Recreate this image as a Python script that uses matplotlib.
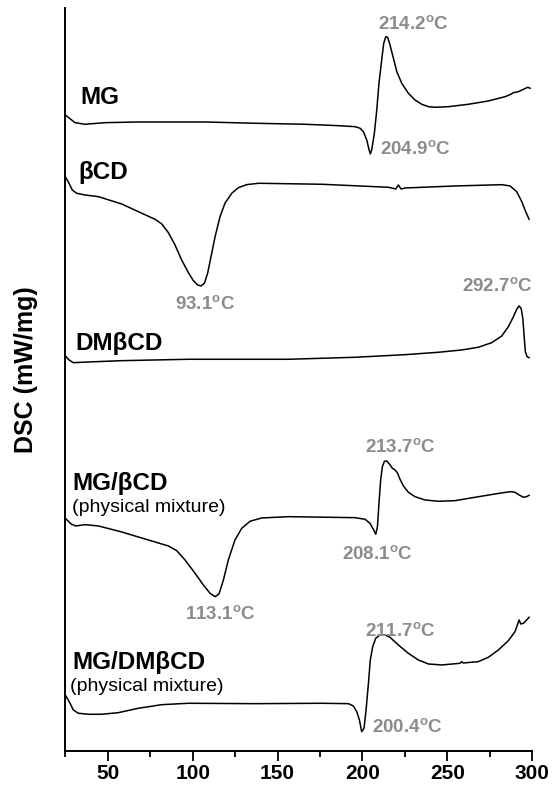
import matplotlib
matplotlib.use("Agg")
import matplotlib.pyplot as plt
from matplotlib.ticker import MultipleLocator

plt.rcParams['font.family'] = ['Liberation Sans', 'DejaVu Sans']
plt.rcParams['mathtext.fontset'] = 'custom'
plt.rcParams['mathtext.rm'] = 'Liberation Sans'
plt.rcParams['mathtext.bf'] = 'Liberation Sans:bold'

# curvas DSC (T en ºC, señal desplazada en mW/mg)
t_mg = [25, 30.7, 36.6, 48.4, 68.0, 107.3, 136.7, 166.2, 185.8, 195.6, 198.6, 200.5,
        202.5, 203.9, 204.6, 205.4, 207.0, 208.4, 209.7, 211.3, 212.5, 213.7, 214.8,
        216.2, 218.2, 220.2, 223.1, 227.0, 230.9, 234.9, 238.8, 242.7, 250.6, 262.4,
        274.1, 284.0, 286.9, 288.9, 291.8, 294.8, 297.3, 298.7]
dsc_mg = [6.36, 6.283, 6.267, 6.283, 6.29, 6.29, 6.277, 6.267, 6.253, 6.243, 6.227, 6.193,
          6.11, 6.01, 5.97, 6.01, 6.177, 6.41, 6.677, 6.91, 7.077, 7.143, 7.137,
          7.06, 6.927, 6.793, 6.677, 6.577, 6.51, 6.467, 6.443, 6.437, 6.443, 6.467,
          6.50, 6.543, 6.563, 6.583, 6.593, 6.617, 6.637, 6.627]

t_bcd = [25, 27.2, 29.1, 31.7, 36.6, 44.5, 58.2, 68.0, 77.8, 81.8, 85.7, 89.6, 93.5,
         97.5, 100.4, 102.9, 104.9, 106.9, 108.8, 110.8, 113.2, 116.1, 119.0, 123.0,
         126.9, 131.8, 138.7, 176.0, 215.2, 219.6, 221.1, 222.7, 225.1, 254.5, 282.0,
         286.9, 290.8, 293.8, 296.1, 298.1]
dsc_bcd = [5.743, 5.677, 5.61, 5.577, 5.56, 5.543, 5.47, 5.393, 5.317, 5.27, 5.183, 5.06,
           4.91, 4.783, 4.703, 4.66, 4.65, 4.677, 4.777, 4.943, 5.143, 5.343, 5.477,
           5.577, 5.633, 5.663, 5.677, 5.667, 5.637, 5.62, 5.66, 5.62, 5.63, 5.65,
           5.663, 5.65, 5.593, 5.493, 5.393, 5.317]

t_dmbcd = [25, 27.2, 29.7, 38.6, 58.2, 97.5, 156.4, 195.6, 225.1, 244.7, 258.4, 268.2,
           276.1, 282.0, 285.9, 288.9, 290.8, 292.2, 293.4, 294.4, 295.2, 295.9, 296.9,
           298.1]
dsc_dmbcd = [3.95, 3.91, 3.883, 3.89, 3.903, 3.917, 3.917, 3.937, 3.963, 3.987, 4.01,
             4.037, 4.083, 4.15, 4.243, 4.343, 4.417, 4.45, 4.427, 4.327, 4.143, 3.993,
             3.943, 3.933]

t_mix1 = [25, 28.4, 31.1, 36.6, 44.5, 58.2, 73.9, 85.7, 90.6, 95.5, 101.4, 106.3,
          110.2, 113.2, 115.5, 118.1, 121.0, 124.9, 128.9, 133.8, 140.6, 156.4, 195.6,
          201.5, 204.4, 206.4, 207.8, 208.8, 209.7, 210.7, 211.7, 212.9, 214.3, 215.8,
          217.6, 219.2, 220.5, 222.1, 224.1, 227.0, 230.9, 236.8, 244.7, 254.5, 266.3,
          278.1, 286.9, 289.8, 292.2, 294.8, 296.7, 298.1]
dsc_mix1 = [2.327, 2.27, 2.25, 2.263, 2.25, 2.19, 2.11, 2.05, 2.003, 1.91, 1.777, 1.66,
            1.577, 1.543, 1.57, 1.71, 1.91, 2.11, 2.227, 2.297, 2.33, 2.343, 2.333,
            2.317, 2.277, 2.217, 2.167, 2.243, 2.477, 2.71, 2.843, 2.897, 2.90, 2.87,
            2.827, 2.81, 2.783, 2.717, 2.65, 2.587, 2.543, 2.51, 2.497, 2.503, 2.537,
            2.57, 2.593, 2.587, 2.56, 2.537, 2.543, 2.557]

t_mix2 = [25, 27.8, 29.7, 32.7, 38.6, 46.4, 56.2, 68.0, 81.8, 97.5, 136.7, 176.0,
          191.7, 194.6, 196.6, 198.2, 199.5, 200.9, 202.1, 203.5, 204.6, 206.0, 207.8,
          210.3, 212.9, 216.2, 221.1, 227.0, 232.9, 238.8, 246.7, 257.5, 258.4, 259.4,
          268.2, 274.1, 280.0, 285.9, 289.8, 291.4, 292.2, 293.2, 294.8, 296.3, 298.1]
dsc_mix2 = [0.56, 0.477, 0.41, 0.377, 0.367, 0.367, 0.383, 0.427, 0.463, 0.477, 0.473,
            0.477, 0.473, 0.45, 0.393, 0.31, 0.193, 0.227, 0.41, 0.677, 0.91, 1.043,
            1.127, 1.16, 1.163, 1.137, 1.06, 0.977, 0.91, 0.87, 0.86, 0.877, 0.893,
            0.88, 0.893, 0.937, 1.01, 1.103, 1.193, 1.27, 1.31, 1.27, 1.277, 1.303, 1.337]

# nombres de las muestras y temperaturas de pico
muestras = ['MG', 'βCD', 'DMβCD', 'MG/βCD', 'MG/DMβCD']
picos = ['214.2', '204.9', '93.1', '292.7', '213.7', '208.1', '113.1', '211.7', '200.4']

fig = plt.figure(figsize=(5.53, 7.89), dpi=100)
ax = fig.add_axes([0.1181, 0.0482, 0.8445, 0.9417])

for t, d in [(t_mg, dsc_mg), (t_bcd, dsc_bcd), (t_dmbcd, dsc_dmbcd),
             (t_mix1, dsc_mix1), (t_mix2, dsc_mix2)]:
    ax.plot(t, d, color='black', lw=1.1, solid_joinstyle='round')

ax.set_xlim(25, 300)
ax.set_ylim(0, 7.43)
ax.spines['top'].set_visible(False)
ax.spines['right'].set_visible(False)
ax.spines['left'].set_linewidth(1.4)
ax.spines['bottom'].set_linewidth(1.4)
ax.set_yticks([])
ax.xaxis.set_major_locator(MultipleLocator(50))
ax.xaxis.set_minor_locator(MultipleLocator(25))
ax.set_xticks([50, 100, 150, 200, 250, 300])
ax.tick_params(axis='x', which='major', direction='out', length=7, width=1.3,
               labelsize=15, pad=2.5)
ax.tick_params(axis='x', which='minor', direction='out', length=4, width=1.3)
for lab in ax.get_xticklabels():
    lab.set_fontweight('bold')

fig.text(26 / 553, 1 - 370 / 789, 'DSC (mW/mg)', rotation=90, ha='center',
         va='center', fontsize=18, fontweight='bold')

# etiquetas de las curvas
pos_muestras = [(33.7, 6.47), (32.5, 5.72), (30.7, 4.01), (29, 2.61), (29.3, 0.82)]
for nombre, (x, y) in zip(muestras, pos_muestras):
    ax.text(x, y, nombre, fontsize=17.5, fontweight='bold', va='baseline')
ax.text(29, 2.39, '(physical mixture)', fontsize=14, va='baseline')
ax.text(27.8, 0.60, '(physical mixture)', fontsize=14, va='baseline')

pos_picos = [(209.2, 7.21), (210.3, 5.96), (89.6, 4.41), (258.4, 4.59), (201.5, 2.98),
             (187.8, 1.91), (95.5, 1.31), (201.5, 1.14), (205.4, 0.18)]
for p, (x, y) in zip(picos, pos_picos):
    ax.text(x, y, p + r'$^{\mathbf{o}}$C', fontsize=13.5, fontweight='bold',
            color='#8c8c8c', va='baseline')

fig.savefig('out.png', dpi=100)
